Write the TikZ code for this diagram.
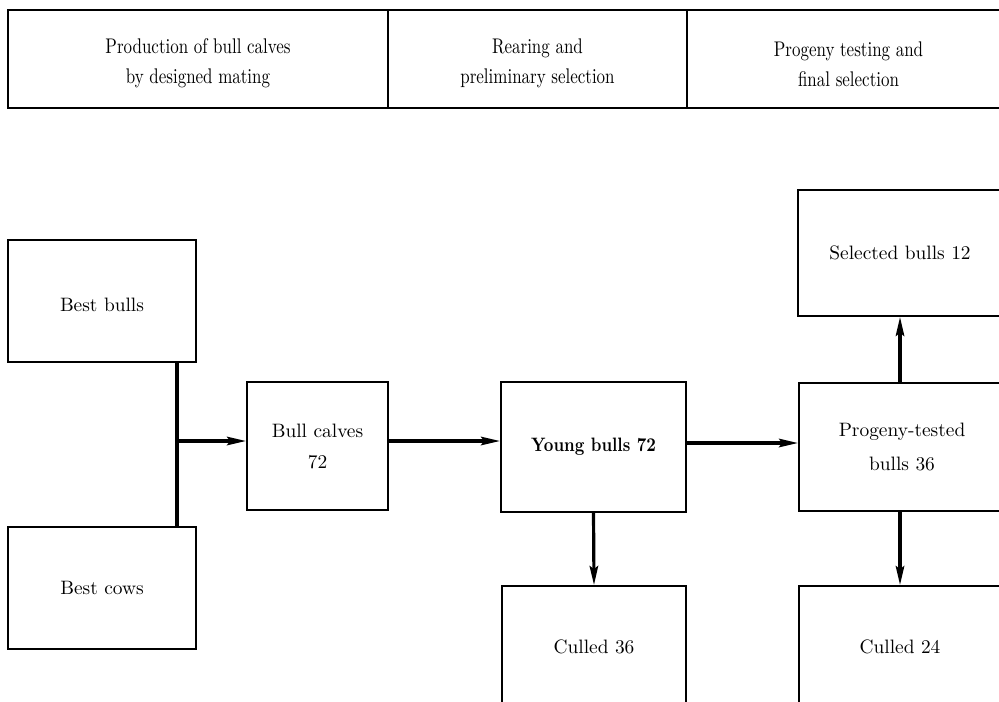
\documentclass[tikz,border=0pt]{standalone}
\usepackage{graphicx}
\usetikzlibrary{arrows.meta}
\newcommand{\hdl}[1]{\scalebox{0.8}[1]{#1}}
\begin{document}
\begin{tikzpicture}[x=0.5pt,y=-0.5pt,
  box/.style 2 args={draw, line width=0.9pt, minimum width=#1*0.5pt, minimum height=#2*0.5pt, inner sep=0pt, align=center, font=\fontsize{9.7}{15.5}\selectfont},
  hbox/.style 2 args={box={#1}{#2}, font=\fontsize{10.6}{15}\selectfont},
  conn/.style={line width=1.6pt},
  arr/.style={line width=1.6pt, -{Stealth[length=9.5pt,width=4.2pt,inset=1.5pt]}}]
\useasboundingbox (0,0) rectangle (999,701);
\clip (0,0) rectangle (999,701);
\fill[white] (0,0) rectangle (999,701);
% header
\node[hbox={380}{98}] (h1) at (198,59) {\\[-3pt]\hdl{Production of bull calves}\\\hdl{by designed mating}};
\node[hbox={299}{98}] (h2) at (537.5,59) {\\[-3pt]\hdl{Rearing and}\\\hdl{preliminary selection}};
\node[hbox={323}{98}] (h3) at (848.5,59) {\\[-2pt]\hdl{Progeny testing and}\\\hdl{final selection}};
% boxes
\node[box={188}{122}] (bb) at (102,301) {\\[-5pt]Best bulls};
\node[box={188}{122}] (bc) at (102,588) {Best cows};
\node[box={141}{128}] (calves) at (317.5,446) {Bull calves\\72};
\node[box={185}{130}] (young) at (593.5,447) {\bfseries\scalebox{0.86}[1]{Young bulls 72}};
\node[box={184}{122}] (c36) at (594,647) {Culled 36};
\node[box={206}{128}, font=\fontsize{9.7}{17}\selectfont] (prog) at (902,447) {Progeny-tested\\bulls 36};
\node[box={204}{126}] (sel) at (900,253) {Selected bulls 12};
\node[box={202}{122}] (c24) at (900,647) {Culled 24};
% connectors
\coordinate (J) at (177,441);
\draw[conn] (J |- bb.south) -- (J |- bc.north);
\draw[arr] (J) -- (J -| calves.west);
\draw[arr] (calves.east |- J) -- (young.west |- J);
\coordinate (K) at (690,443);
\draw[arr] (young.east |- K) -- (prog.west |- K);
\draw[arr] (young.south) -- (c36.north);
\draw[arr] (prog.north -| sel.south) -- (sel.south);
\draw[arr] (prog.south -| c24.north) -- (c24.north);
\end{tikzpicture}
\end{document}
